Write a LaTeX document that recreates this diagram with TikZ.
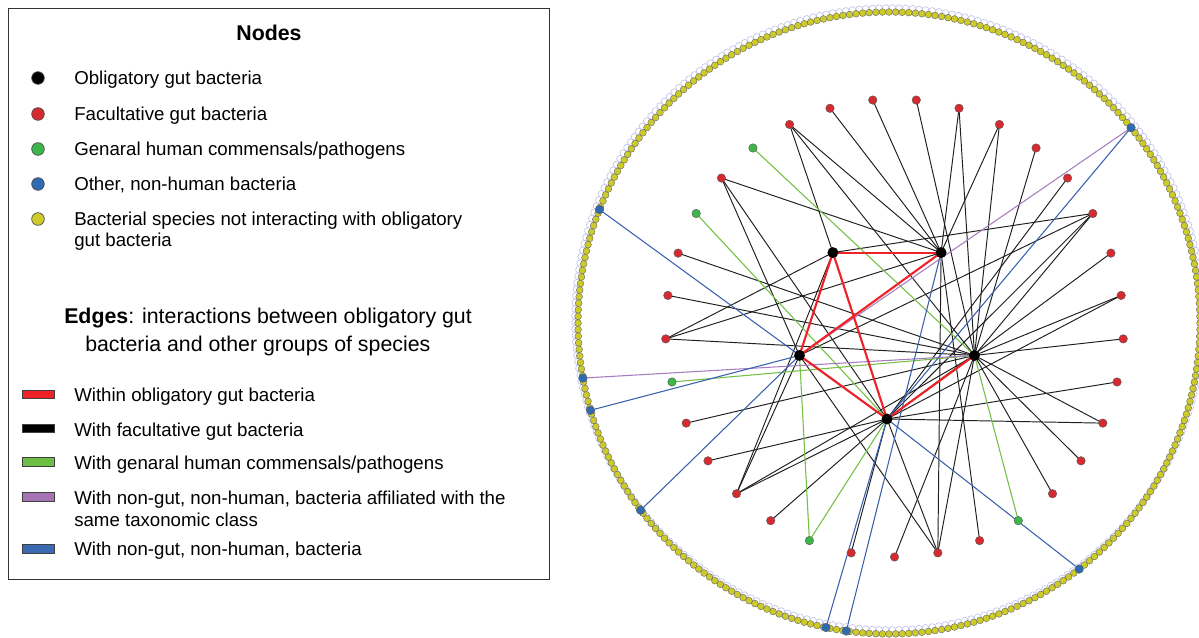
\documentclass[tikz,border=0pt]{standalone}
\usepackage{fontspec}
\setmainfont{Liberation Sans}
\usetikzlibrary{backgrounds}
\definecolor{nred}{HTML}{D42A30}
\definecolor{ngreen}{HTML}{3DB54A}
\definecolor{nblue}{HTML}{2F6BB3}
\definecolor{nyel}{HTML}{CDCB2A}
\definecolor{ered}{HTML}{EE2329}
\definecolor{egreen}{HTML}{74C044}
\definecolor{eblue}{HTML}{3A62AE}
\definecolor{epurple}{HTML}{A87DC0}
\definecolor{lav}{HTML}{C4C4EC}
\definecolor{sred}{HTML}{EE2127}
\definecolor{sgreen}{HTML}{6DBE45}
\definecolor{spurple}{HTML}{A474B3}
\definecolor{sblue}{HTML}{3A6AB3}
\tikzset{
  pnode/.style={circle, draw=gray!70!black, line width=0.3pt, minimum size=6.4pt, inner sep=0pt},
  obl/.style={circle, fill=black, minimum size=8.2pt, inner sep=0pt},
  bedge/.style={black!88, line width=0.72pt},
  redge/.style={ered, line width=1.6pt},
  gedge/.style={egreen, line width=0.8pt},
  uedge/.style={eblue, line width=0.8pt},
  vedge/.style={epurple, line width=0.8pt},
  legtxt/.style={anchor=base west, inner sep=0pt, font=\fontsize{14}{16}\selectfont},
  legdot/.style={circle, draw=black!70, line width=0.5pt, minimum size=9.5pt, inner sep=0pt},
  swatch/.style={draw=black!75, line width=0.6pt, minimum width=24pt, minimum height=6.5pt, inner sep=0pt}
}
\begin{document}
\begin{tikzpicture}[x=0.75pt,y=-0.75pt]
\useasboundingbox (0,0) rectangle (1199,638);
% ---------- legend ----------
\node[draw=black!80, line width=0.8pt, anchor=north west, minimum width=405.75pt, minimum height=428.25pt, inner sep=0pt] (legend) at (8,8) {};
\node[anchor=base, inner sep=0pt, font=\fontsize{16}{18}\selectfont\bfseries] (ntitle) at (269,40.5) {Nodes};
\node[legdot, fill=black] (l1) at (38,78) {};
\node[legdot, fill=nred] (l2) at (38,114) {};
\node[legdot, fill=ngreen] (l3) at (38,149) {};
\node[legdot, fill=nblue] (l4) at (38,184) {};
\node[legdot, fill=nyel] (l5) at (38,219) {};
\node[legtxt] (t1) at (74,84.7) {Obligatory gut bacteria};
\node[legtxt] (t2) at (74,120.7) {Facultative gut bacteria};
\node[legtxt] (t3) at (74,155.7) {Genaral human commensals/pathogens};
\node[legtxt] (t4) at (74,190.7) {Other, non-human bacteria};
\node[legtxt] (t5) at (74,225.5) {Bacterial species not interacting with obligatory};
\node[legtxt] (t5b) at (74,246.5) {gut bacteria};
\node[anchor=base west, inner sep=0pt, font=\fontsize{16}{18}\selectfont] (etitle) at (64,323.5) {\textbf{Edges}: interactions between obligatory gut};
\node[anchor=base west, inner sep=0pt, font=\fontsize{16}{18}\selectfont] (etitle2) at (85,351) {bacteria and other groups of species};
\node[swatch, fill=sred] (s1) at (38.5,394.5) {};
\node[swatch, fill=black] (s2) at (38.5,428.5) {};
\node[swatch, fill=sgreen] (s3) at (38.5,462) {};
\node[swatch, fill=spurple] (s4) at (38.5,497) {};
\node[swatch, fill=sblue] (s5) at (38.5,549) {};
\node[legtxt] (u1) at (74,401.5) {Within obligatory gut bacteria};
\node[legtxt] (u2) at (74,436) {With facultative gut bacteria};
\node[legtxt] (u3) at (74,469) {With genaral human commensals/pathogens};
\node[legtxt] (u4) at (74,504) {With non-gut, non-human, bacteria affiliated with the};
\node[legtxt] (u4b) at (74,526.7) {same taxonomic class};
\node[legtxt] (u5) at (74,555.7) {With non-gut, non-human, bacteria};
% ---------- outer ring ----------
\foreach \k in {0,...,295} {
  \pgfmathsetmacro\ta{\k*1.216216+0.6}
  \draw[lav, line width=0.5pt] ({889+314*cos(\ta)},{319-311*sin(\ta)}) circle (2.55pt);
}
\foreach \k in {0,...,295} {
  \pgfmathsetmacro\ta{\k*1.216216}
  \filldraw[fill=nyel, draw=black!60, line width=0.3pt] ({889+311*cos(\ta)},{323-311*sin(\ta)}) circle (2.55pt);
}
% ring (blue) nodes
\foreach \n/\a in {q1/38.9, q2/158.6, q3/190.2, q4/196.3, q5/217, q6/307.7, q7/258.3, q8/262.1} {
  \node[pnode, fill=nblue] (\n) at ({889+311*cos(\a)},{323-311*sin(\a)}) {};
}
% inner ring nodes
\foreach \i/\c in {1/nred,2/nred,3/nred,4/nred,5/nred,6/nred,7/nred,8/nred,9/nred,10/nred,11/nred,12/nred,13/nred,14/nred,15/ngreen,16/nred,17/nred,18/nred,19/nred,20/ngreen,21/nred,22/nred,23/nred,24/nred,25/ngreen,26/nred,27/nred,28/nred,29/ngreen,30/nred,31/ngreen,32/nred,33/nred} {
  \pgfmathsetmacro\ang{95.4545-10.90909*(\i-1)}
  \node[pnode, fill=\c] (p\i) at ({894.5+229*cos(\ang)},{328-229*sin(\ang)}) {};
}
% obligatory nodes (pentagon)
\node[obl] (A) at ({887+92*cos(126)},{327-92*sin(126)}) {};
\node[obl] (B) at ({887+92*cos(54)},{327-92*sin(54)}) {};
\node[obl] (C) at ({887+92*cos(198)},{327-92*sin(198)}) {};
\node[obl] (D) at ({887+92*cos(-18)},{327-92*sin(-18)}) {};
\node[obl] (E) at ({887+92*cos(-90)},{327-92*sin(-90)}) {};
% ---------- edges ----------
\begin{pgfonlayer}{background}
\fill[white] (0,0) rectangle (1199,638);
\foreach \a/\b in {p1/B,p2/D,p3/B,p3/D,p4/B,p4/D,p5/D,p6/E,p7/A,p7/C,p7/E,p7/D,p8/E,p9/D,p9/E,p10/D,p11/E,p12/D,p12/E,p13/D,p14/D,p16/B,p17/C,p17/E,p17/B,p17/D,p18/D,p19/E,p21/E,p22/A,p22/C,p22/E,p22/D,p23/E,p24/D,p26/A,p26/B,p26/D,p27/D,p28/D,p30/B,p30/C,p30/E,p32/A,p32/B,p32/D,p33/B}
  \draw[bedge] (\a.center) -- (\b.center);
\foreach \a/\b in {p15/D,p20/C,p20/E,p25/D,p29/E,p31/D}
  \draw[gedge] (\a.center) -- (\b.center);
\foreach \a/\b in {q1/C,q3/D}
  \draw[vedge] (\a.center) -- (\b.center);
\foreach \a/\b in {q1/E,q2/E,q4/C,q5/C,q6/E,q7/E,q8/B}
  \draw[uedge] (\a.center) -- (\b.center);
\foreach \a/\b in {A/B,A/C,A/E,C/B,C/E,E/D}
  \draw[redge] (\a.center) -- (\b.center);
\end{pgfonlayer}
\end{tikzpicture}
\end{document}
